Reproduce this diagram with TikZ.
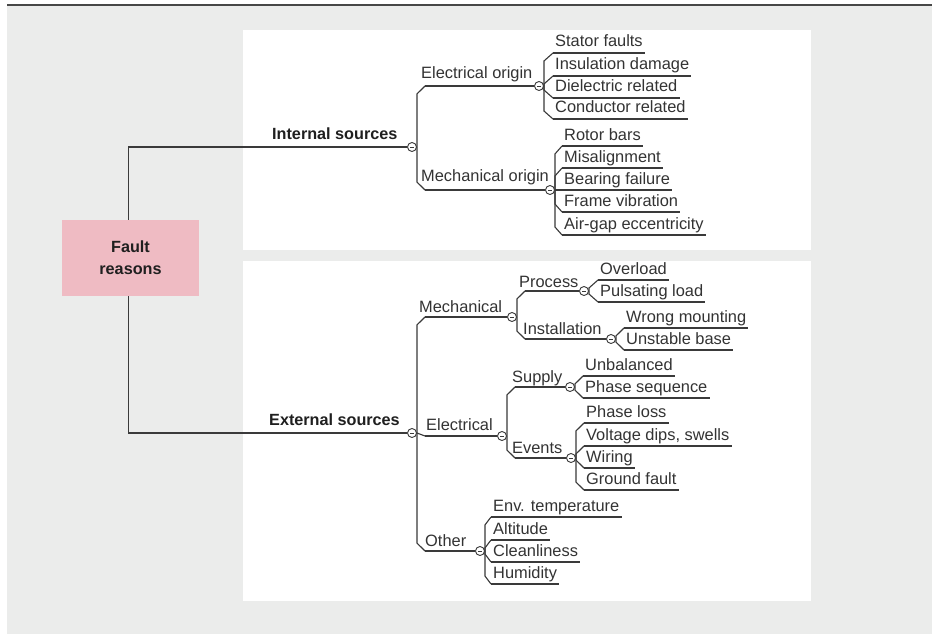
\documentclass[tikz,border=0pt]{standalone}
\usepackage{fontspec}
\setmainfont{Liberation Sans}
\usetikzlibrary{calc}
\definecolor{bggrey}{HTML}{EBECEB}
\definecolor{pinkbox}{HTML}{EFBBC3}
\definecolor{ink}{HTML}{333333}
\definecolor{linec}{HTML}{3A3A3A}
\definecolor{topline}{HTML}{474747}
\pgfdeclarelayer{back}
\pgfdeclarelayer{lines}
\pgfsetlayers{back,lines,main}
\newcommand\topic[6]{%
  \coordinate (#1-s) at (#2,#3);
  \node[leaf] (#1) at (#4,#5) {#6};}
\newcommand\leafat[4]{%
  \coordinate (#1-s) at (#2,#3);
  \node[leaf] (#1) at (#2+2,#3-6) {#4};
  \begin{pgfonlayer}{lines}\draw[link] (#1-s) -- ($(#1.east |- #1-s)+(2,0)$);\end{pgfonlayer}}
\newcommand\conn[2]{%
  \begin{pgfonlayer}{lines}
  \draw[link] let \p1=(#1.east), \p2=(#2),
    \n1={min(8,abs(\y1-\y2))*(\y1>\y2 ? 1 : -1)} in
    (\p1) -- (\x1,{\y2+(\n1)}) -- (\p2);
  \end{pgfonlayer}}
\newcommand\uline[2]{%
  \begin{pgfonlayer}{lines}\draw[link] (#1) -- (#2);\end{pgfonlayer}}
\begin{document}
\begin{tikzpicture}[x=1pt,y=-1pt,
  link/.style={draw=linec, line width=1.1pt},
  toggle/.style={circle, draw=linec, fill=white, line width=0.9pt,
    minimum size=9pt, inner sep=0pt,
    path picture={\draw[linec, line width=0.8pt]
      ([xshift=-1.7pt]path picture bounding box.center) --
      ([xshift=1.7pt]path picture bounding box.center);}},
  leaf/.style={anchor=base west, inner sep=0pt, text=ink,
    font=\fontsize{16.4}{19}\selectfont},
  boldlbl/.style={anchor=base west, inner sep=0pt, text=black!88,
    font=\fontsize{16.2}{19}\selectfont\bfseries},
  rootbox/.style={fill=pinkbox, minimum width=137pt, minimum height=76pt,
    align=center, inner sep=0pt, text=black!88,
    font=\fontsize{16.2}{22}\selectfont\bfseries}
]
\useasboundingbox (0,0) rectangle (940,634);
\begin{pgfonlayer}{back}
  \fill[bggrey] (7,6) rectangle (932,634);
  \fill[white] (243,30) rectangle (811,250);
  \fill[white] (243,261) rectangle (811,601);
  \draw[topline, line width=2pt] (7,5.5) -- (932,5.5);
\end{pgfonlayer}

% root
\node[rootbox] (root) at (130.5,258) {Fault\\reasons};

% ---------- internal sources ----------
\node[toggle] (cIS) at (412,147) {};
\node[boldlbl] (IS) at (272,139) {Internal sources};
\begin{pgfonlayer}{lines}\draw[link] ([xshift=-2pt]root.north) |- (cIS.west);\end{pgfonlayer}

\node[toggle] (cEO) at (539,86) {};
\node[toggle] (cMO) at (550,190) {};
\topic{EO}{425}{86}{421}{78}{Electrical origin}
\topic{MO}{425}{190}{421}{181}{Mechanical origin}
\uline{EO-s}{cEO.west}
\uline{MO-s}{cMO.west}
\conn{cIS}{EO-s}
\conn{cIS}{MO-s}

\leafat{sf}{553}{53}{Stator faults}
\leafat{id}{553}{76}{Insulation damage}
\leafat{dr}{553}{98}{Dielectric related}
\leafat{cr}{553}{119}{Conductor related}
\conn{cEO}{sf-s}\conn{cEO}{id-s}\conn{cEO}{dr-s}\conn{cEO}{cr-s}

\leafat{rb}{562}{146}{Rotor bars}
\leafat{ma}{562}{168}{Misalignment}
\leafat{bf}{562}{190}{Bearing failure}
\leafat{fv}{562}{212}{Frame vibration}
\leafat{ag}{562}{235}{Air-gap eccentricity}
\conn{cMO}{rb-s}\conn{cMO}{ma-s}\conn{cMO}{bf-s}\conn{cMO}{fv-s}\conn{cMO}{ag-s}

% ---------- external sources ----------
\node[toggle] (cES) at (412,433) {};
\node[boldlbl] (ES) at (269,425) {External sources};
\begin{pgfonlayer}{lines}\draw[link] ([xshift=-2pt]root.south) |- (cES.west);\end{pgfonlayer}

\node[toggle] (cMe) at (512,317) {};
\node[toggle] (cEl) at (502,436) {};
\node[toggle] (cOt) at (480,551) {};
\topic{Me}{425}{317}{419}{312}{Mechanical}
\topic{El}{425}{436}{426}{430}{Electrical}
\topic{Ot}{425}{551}{425}{546}{Other}
\uline{Me-s}{cMe.west}
\uline{El-s}{cEl.west}
\uline{Ot-s}{cOt.west}
\conn{cES}{Me-s}\conn{cES}{El-s}\conn{cES}{Ot-s}

% mechanical
\node[toggle] (cPr) at (584,291) {};
\node[toggle] (cIn) at (611,339) {};
\topic{Pr}{525}{291}{519}{287}{Process}
\topic{In}{525}{339}{523}{334}{Installation}
\uline{Pr-s}{cPr.west}
\uline{In-s}{cIn.west}
\conn{cMe}{Pr-s}\conn{cMe}{In-s}
\leafat{ol}{598}{280}{Overload}
\leafat{pl}{598}{302}{Pulsating load}
\conn{cPr}{ol-s}\conn{cPr}{pl-s}
\leafat{wm}{624}{328}{Wrong mounting}
\leafat{ub}{624}{350}{Unstable base}
\conn{cIn}{wm-s}\conn{cIn}{ub-s}

% electrical
\node[toggle] (cSu) at (570,387) {};
\node[toggle] (cEv) at (571,458) {};
\topic{Su}{515}{387}{512}{382}{Supply}
\topic{Ev}{515}{458}{512}{453}{Events}
\uline{Su-s}{cSu.west}
\uline{Ev-s}{cEv.west}
\conn{cEl}{Su-s}\conn{cEl}{Ev-s}
\leafat{un}{583}{376}{Unbalanced}
\leafat{ps}{583}{398}{Phase sequence}
\conn{cSu}{un-s}\conn{cSu}{ps-s}
\leafat{plo}{584}{423}{Phase loss}
\leafat{vd}{584}{446}{Voltage dips, swells}
\leafat{wi}{584}{468}{Wiring}
\leafat{gf}{584}{490}{Ground fault}
\conn{cEv}{plo-s}\conn{cEv}{vd-s}\conn{cEv}{wi-s}\conn{cEv}{gf-s}

% other
\leafat{et}{491}{517}{Env. temperature}
\leafat{al}{491}{540}{Altitude}
\leafat{cl}{491}{562}{Cleanliness}
\leafat{hu}{491}{584}{Humidity}
\conn{cOt}{et-s}\conn{cOt}{al-s}\conn{cOt}{cl-s}\conn{cOt}{hu-s}
\end{tikzpicture}
\end{document}
